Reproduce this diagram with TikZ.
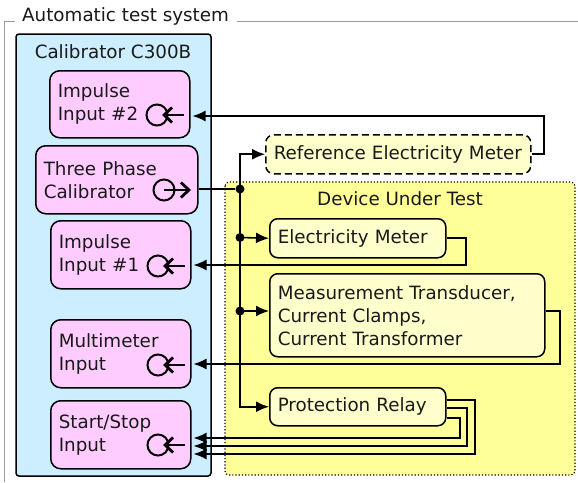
\documentclass[tikz,border=0pt]{standalone}
\usepackage{fontspec}
\setmainfont{DejaVu Sans}
\usetikzlibrary{arrows.meta,calc}
\begin{document}
\begin{tikzpicture}[x=1pt,y=-1pt,
  every node/.style={font=\fontsize{18.3}{23}\selectfont, text=black!90},
  pinkbox/.style={draw, line width=1.5pt, fill=pinkfill, rounded corners=10pt, anchor=north west, align=left, inner xsep=8pt, inner ysep=0pt},
  ylwbox/.style={draw, line width=1.5pt, fill=ylwfill, rounded corners=8pt, anchor=north west, align=left, inner xsep=8pt, inner ysep=0pt},
  port/.style={draw, circle, line width=2pt, minimum size=21pt, inner sep=0pt},
  portarrow/.style={line width=2.8pt, -{Straight Barb[length=8pt,width=15pt]}},
  conn/.style={line width=1.6pt},
  arr/.style={conn, -{Latex[length=13pt,width=11pt]}},
  dot/.style={circle, fill=black, minimum size=9pt, inner sep=0pt}
]
\definecolor{pinkfill}{HTML}{FFCCFF}
\definecolor{bluefill}{HTML}{CCEEFF}
\definecolor{dutfill}{HTML}{FFFF99}
\definecolor{ylwfill}{HTML}{FFFFCC}
\definecolor{framegray}{HTML}{9A9A9A}
\useasboundingbox (0,0) rectangle (578,482);
\fill[white] (0,0) rectangle (578,482);

% outer group
\node[anchor=base west, inner sep=0pt] (ats) at (22,21) {Automatic test system};
\draw[framegray, line width=1pt] (4,482) -- (4,21) -- (15,21);
\draw[framegray, line width=1pt] (237,21) -- (578,21);

% calibrator
\draw[line width=1.5pt, fill=bluefill, rounded corners=3pt] (16,34) rectangle (211,476);
\node (caltitle) at (113,52) {Calibrator C300B};

% DUT
\draw[line width=1.2pt, dotted, fill=dutfill, rounded corners=4pt] (225,182) rectangle (575,475);
\node (duttitle) at (400,199) {Device Under Test};

% pink boxes
\node[pinkbox, minimum width=140pt, minimum height=67pt, text width=124pt] (ii2) at (49,70) {Impulse\\Input \#2};
\node[pinkbox, minimum width=162pt, minimum height=68pt, text width=146pt] (tpc) at (35,145) {Three Phase\\Calibrator};
\node[pinkbox, minimum width=140pt, minimum height=68pt, text width=124pt] (ii1) at (50,220) {Impulse\\Input \#1};
\node[pinkbox, minimum width=140pt, minimum height=68pt, text width=124pt] (mm) at (50,319) {Multimeter\\Input};
\node[pinkbox, minimum width=140pt, minimum height=68pt, text width=124pt] (ss) at (50,400) {Start/Stop\\Input};

% ports
\node[port] (p2) at (157,115) {};
\node[port] (p3) at (164,190) {};
\node[port] (p1) at (158,266) {};
\node[port] (pm) at (158,365) {};
\node[port] (ps) at (158,445) {};
\coordinate (a2) at (184,115);
\coordinate (a3) at (191,190);
\coordinate (a1) at (185,266);
\coordinate (am) at (185,365);
\coordinate (as) at (185,445);
\draw[portarrow] (a2) -- ([xshift=5pt]p2.center);
\draw[portarrow] (p3.center) -- (a3);
\draw[portarrow] (a1) -- ([xshift=5pt]p1.center);
\draw[portarrow] (am) -- ([xshift=5pt]pm.center);
\draw[portarrow] (as) -- ([xshift=5pt]ps.center);

% yellow boxes
\node[ylwbox, dash pattern=on 7pt off 4pt, minimum width=265pt, minimum height=39pt, text width=249pt] (refm) at (265,134) {Reference Electricity Meter};
\node[ylwbox, minimum width=176pt, minimum height=39pt, text width=160pt] (em) at (269,218) {Electricity Meter};
\node[ylwbox, minimum width=275pt, minimum height=83pt, text width=259pt] (mt) at (269,273) {Measurement Transducer,\\Current Clamps,\\Current Transformer};
\node[ylwbox, minimum width=176pt, minimum height=38pt, text width=160pt] (pr) at (269,387) {Protection Relay};

% bus
\node[dot] (j0) at (240,189) {};
\node[dot] (j1) at (240,237.5) {};
\node[dot] (j2) at (240,311) {};
\draw[conn] (tpc.east |- j0) -- (j0);
\draw[arr] (j0.center) |- (refm.west);
\draw[arr] (j0.center) |- (pr.west);
\draw[arr] (j1.center) -- (em.west);
\draw[arr] (j2.center) -- (mt.west |- j2);

% returns
\coordinate (r1) at (544,116);
\draw[arr] (refm.east) -| (r1) -- ([xshift=2pt]ii2.east |- r1);
\coordinate (r2) at (466,265);
\draw[arr] (em.east) -| (r2) -- ([xshift=2pt]ii1.east |- r2);
\coordinate (r3) at (560,364);
\draw[arr] (mt.east |- j2) -| (r3) -- ([xshift=2pt]mm.east |- r3);
\coordinate (r4a) at (475,454);
\coordinate (r4b) at (467,446);
\coordinate (r4c) at (460,438);
\draw[arr] ([yshift=7pt]pr.east) -| (r4a) -- ([xshift=2pt]ss.east |- r4a);
\draw[arr] ([yshift=-1pt]pr.east) -| (r4b) -- ([xshift=2pt]ss.east |- r4b);
\draw[arr] ([yshift=-11pt]pr.east) -| (r4c) -- ([xshift=2pt]ss.east |- r4c);
\end{tikzpicture}
\end{document}
